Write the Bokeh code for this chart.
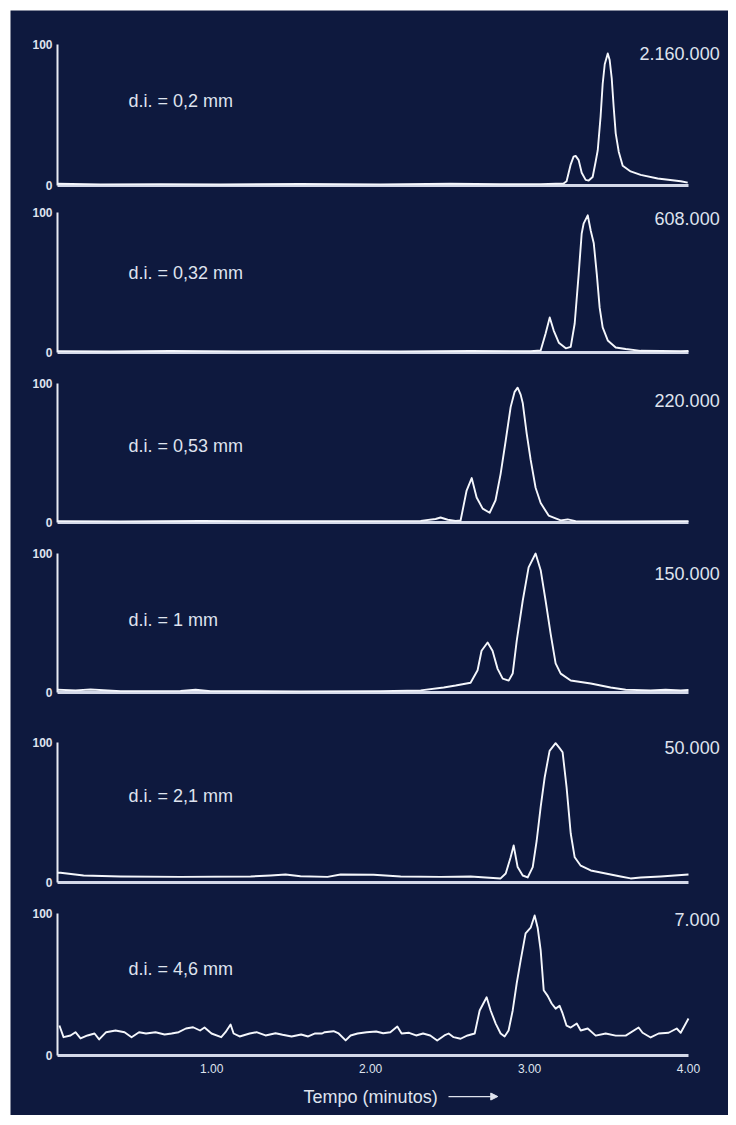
from bokeh.plotting import figure
from bokeh.models import Range1d, Arrow, NormalHead
from bokeh.core.properties import value
from bokeh.embed import file_html
from bokeh.resources import INLINE

# ---------------- data (time in minutes, relative intensity %) ----------------
diameters = ["d.i. = 0,2 mm", "d.i. = 0,32 mm", "d.i. = 0,53 mm",
             "d.i. = 1 mm", "d.i. = 2,1 mm", "d.i. = 4,6 mm"]
scales = ["2.160.000", "608.000", "220.000", "150.000", "50.000", "7.000"]
x_ticks = [1, 2, 3, 4]
x_tick_labels = ["1.00", "2.00", "3.00", "4.00"]
y_ticks = [0, 100]
y_tick_labels = ["0", "100"]
x_label = "Tempo (minutos)"

t_02 = [0.030, 0.301, 0.678, 1.056, 1.559, 2.063, 2.503, 2.818, 3.070, 3.214,
        3.233, 3.259, 3.277, 3.290, 3.309, 3.328, 3.353, 3.372, 3.397,
        3.416, 3.429, 3.447, 3.460, 3.473, 3.492, 3.504, 3.517, 3.529, 3.542,
        3.561, 3.586, 3.636, 3.699, 3.806, 3.951, 3.995]
v_02 = [1.2, 0.8, 1.0, 0.7, 1.1, 0.8, 1.2, 0.9, 1.0, 1.4,
        3, 15, 20.5, 21, 18, 9, 4, 3.5, 6,
        17, 25, 49, 72, 86, 93.6, 89, 76, 56, 37,
        24, 14, 10, 7.5, 5, 3, 2]

t_032 = [0.030, 0.364, 0.741, 1.182, 1.685, 2.189, 2.629, 3.007, 3.070, 3.101,
         3.127, 3.152, 3.184, 3.228, 3.259, 3.284, 3.309, 3.328, 3.340, 3.366,
         3.385, 3.404, 3.423, 3.441, 3.460, 3.492, 3.542, 3.605, 3.699, 3.951, 4.0]
v_032 = [1, 0.7, 1.1, 0.8, 1.0, 0.8, 1.1, 0.9, 1.4, 13.6,
         25, 15.7, 7, 3, 4, 20.7, 56, 85, 92, 98,
         87, 78, 56, 32, 18, 8.6, 3.6, 2.5, 1.2, 1.0, 1.1]

t_053 = [0.030, 0.427, 0.930, 1.434, 1.937, 2.315, 2.409, 2.440, 2.485, 2.535,
         2.566, 2.604, 2.636, 2.667, 2.705, 2.749, 2.786, 2.818, 2.850, 2.881,
         2.906, 2.925, 2.944, 2.957, 2.982, 3.007, 3.038, 3.070, 3.120, 3.196,
         3.240, 3.290, 3.573, 4.0]
v_053 = [1, 0.8, 1.1, 0.9, 1.0, 1.2, 2.5, 3.6, 2, 1.2,
         1.4, 23, 32, 18, 10, 7, 16, 35, 59, 83,
         94, 97, 92, 86, 64, 45, 25, 14, 5, 1.5,
         2.2, 1.0, 0.8, 1.0]

t_1 = [0.030, 0.144, 0.238, 0.427, 0.804, 0.899, 0.993, 1.559, 2.063, 2.315,
       2.460, 2.535, 2.629, 2.673, 2.698, 2.736, 2.767, 2.799, 2.831, 2.869,
       2.894, 2.919, 2.957, 2.994, 3.038, 3.070, 3.101, 3.133, 3.164, 3.196,
       3.259, 3.385, 3.510, 3.605, 3.762, 3.856, 3.951, 4.0]
v_1 = [2, 1.5, 2.2, 1.0, 1.2, 2.0, 1.0, 0.8, 1.0, 1.5,
       3.6, 5, 7, 16, 30, 36, 30, 17, 10, 8.6,
       13.6, 37, 66, 90, 100, 88, 66, 42, 21, 13.6,
       8.6, 6.5, 3.6, 2, 1.5, 2, 1.5, 1.8]

t_21 = [0.030, 0.049, 0.194, 0.427, 0.804, 1.245, 1.371, 1.465, 1.559, 1.729,
        1.811, 2.019, 2.189, 2.440, 2.629, 2.818, 2.850, 2.881, 2.900, 2.925,
        2.957, 2.988, 3.020, 3.045, 3.070, 3.095, 3.126, 3.164, 3.189, 3.208,
        3.233, 3.259, 3.284, 3.322, 3.385, 3.479, 3.573, 3.636, 3.699, 3.825, 4.0]
v_21 = [7, 7, 5, 4.3, 4.0, 4.3, 5.0, 5.7, 4.5, 4.0,
        5.7, 5.5, 4.3, 4.0, 4.3, 2.9, 6.4, 18, 26.4, 11,
        5, 3.6, 11, 30, 54, 75, 94, 99.5, 96, 93,
        68, 35, 18, 12, 8.6, 6.4, 4.3, 2.9, 3.6, 4.3, 5.7]

t_46 = [0.042, 0.068, 0.112, 0.143, 0.175, 0.219, 0.263, 0.292, 0.336, 0.395,
        0.452, 0.496, 0.543, 0.587, 0.647, 0.704, 0.748, 0.792, 0.838, 0.883,
        0.927, 0.955, 0.999, 1.060, 1.087, 1.119, 1.138, 1.176, 1.239, 1.282,
        1.339, 1.402, 1.446, 1.503, 1.563, 1.607, 1.651, 1.695, 1.711, 1.767,
        1.799, 1.843, 1.874, 1.918, 1.975, 2.035, 2.079, 2.124, 2.168, 2.195,
        2.242, 2.286, 2.330, 2.375, 2.419, 2.464, 2.491, 2.522, 2.566, 2.610,
        2.655, 2.686, 2.730, 2.755, 2.787, 2.818, 2.843, 2.868, 2.894, 2.919,
        2.944, 2.975, 3.007, 3.032, 3.051, 3.070, 3.089, 3.114, 3.139, 3.164,
        3.189, 3.208, 3.233, 3.259, 3.297, 3.322, 3.366, 3.416, 3.479, 3.542,
        3.605, 3.686, 3.711, 3.762, 3.812, 3.875, 3.926, 3.951, 4.0]
v_46 = [21.1, 12.9, 14.1, 16.4, 12.0, 14.1, 15.5, 11.3, 16.4, 17.6,
        16.4, 12.9, 16.4, 15.5, 16.4, 14.8, 15.5, 16.4, 19.0, 19.9,
        17.6, 19.7, 15.5, 12.9, 16.4, 21.8, 15.5, 13.4, 15.5, 16.4,
        14.1, 15.7, 14.6, 13.4, 14.8, 13.4, 15.5, 15.5, 16.4, 17.1,
        15.5, 10.6, 14.1, 15.5, 16.4, 16.9, 15.7, 16.4, 20.4, 15.5,
        16.0, 14.1, 15.5, 14.1, 10.6, 14.1, 15.5, 12.9, 11.8, 14.1,
        15.5, 31.7, 41, 31.7, 22.5, 15.5, 13.4, 17.6, 31.7, 50.7,
        67, 86, 90, 98.6, 90, 74, 46, 42, 36.6, 33,
        35, 29.6, 21, 19.7, 22.5, 17.6, 19, 14, 15.5, 14,
        14, 19.7, 16, 12.7, 15.5, 16, 19, 16, 26]

times = [t_02, t_032, t_053, t_1, t_21, t_46]
values = [v_02, v_032, v_053, v_1, v_21, v_46]

# ---------------- layout / style ----------------
BG = "#0e193e"
TXT = "#dfe3ee"
LINE = "#f5f7fc"
AX_Y = "#e8ebf3"
AX_X = "#d3d8e8"
FONT = value("Liberation Sans")

PAD = 10                 # white margin left/top of the dark panel
FW, FH = 718, 1105       # dark frame size
W, H = FW + PAD, FH + PAD

# time axis span and its pixel placement inside the frame
T0, T1 = 0.03, 4.0
PX0, PX1 = 47, 678
PX_PER_MIN = (PX1 - PX0) / (T1 - T0)
x_range = Range1d(T0 - PX0 / PX_PER_MIN, T0 + (FW - PX0) / PX_PER_MIN)

# each panel: frame px (from top) of its 100% and 0% levels
panel_top = [34, 202, 373, 543, 732, 903]
panel_bot = [175, 342, 512, 682, 872, 1045]

label_y = [60, 57, 54.7, 51.8, 62, 61]
scale_y = [93.6, 95.7, 87.8, 85.6, 96.4, 95.8]
label_x = 0.477
scale_x = 4.196

extra = {}
for i in range(6):
    s = 100.0 / (panel_bot[i] - panel_top[i])
    top = 100 + panel_top[i] * s
    extra["p%d" % i] = Range1d(top - FH * s, top)

p = figure(width=W, height=H, x_range=x_range, y_range=Range1d(0, 1),
           x_axis_type=None, y_axis_type=None,
           min_border=0, min_border_left=PAD, min_border_right=0,
           min_border_top=PAD, min_border_bottom=0,
           background_fill_color=BG, border_fill_color="white", outline_line_color=None,
           output_backend="svg", toolbar_location=None)
p.grid.visible = False
p.extra_y_ranges = extra

for i in range(6):
    rn = "p%d" % i
    p.segment(x0=[T0], y0=[0], x1=[T1], y1=[0], y_range_name=rn,
              line_color=AX_X, line_width=3)
    p.segment(x0=[T0], y0=[y_ticks[0]], x1=[T0], y1=[y_ticks[-1]], y_range_name=rn,
              line_color=AX_Y, line_width=2)
    p.text(x=[T0, T0], y=y_ticks, text=y_tick_labels, y_range_name=rn,
           x_offset=-5, text_align="right", text_baseline="middle",
           text_color=TXT, text_font=FONT, text_font_size="12px",
           text_font_style="bold")
    p.line(times[i], values[i], y_range_name=rn,
           line_color=LINE, line_width=1.9, line_join="round")
    p.text(x=[label_x], y=[label_y[i]], text=[diameters[i]], y_range_name=rn,
           text_color=TXT, text_font=FONT, text_font_size="18px",
           text_baseline="middle")
    p.text(x=[scale_x], y=[scale_y[i]], text=[scales[i]], y_range_name=rn,
           text_color=TXT, text_font=FONT, text_font_size="18px",
           text_baseline="middle", text_align="right")

p.text(x=x_ticks, y=[0] * len(x_ticks), text=x_tick_labels, y_range_name="p5",
       y_offset=13, text_align="center", text_baseline="middle",
       text_color=TXT, text_font=FONT, text_font_size="12px")
p.text(x=[2.0], y=[-28.9], text=[x_label], y_range_name="p5",
       text_align="center", text_baseline="middle",
       text_color=TXT, text_font=FONT, text_font_size="18px")
p.add_layout(Arrow(x_start=2.49, y_start=-28.9, x_end=2.80, y_end=-28.9,
                   y_range_name="p5", line_color=TXT, line_width=1.3,
                   end=NormalHead(size=7, fill_color=TXT, line_color=TXT)))

open("out.html", "w").write(file_html(p, INLINE))
